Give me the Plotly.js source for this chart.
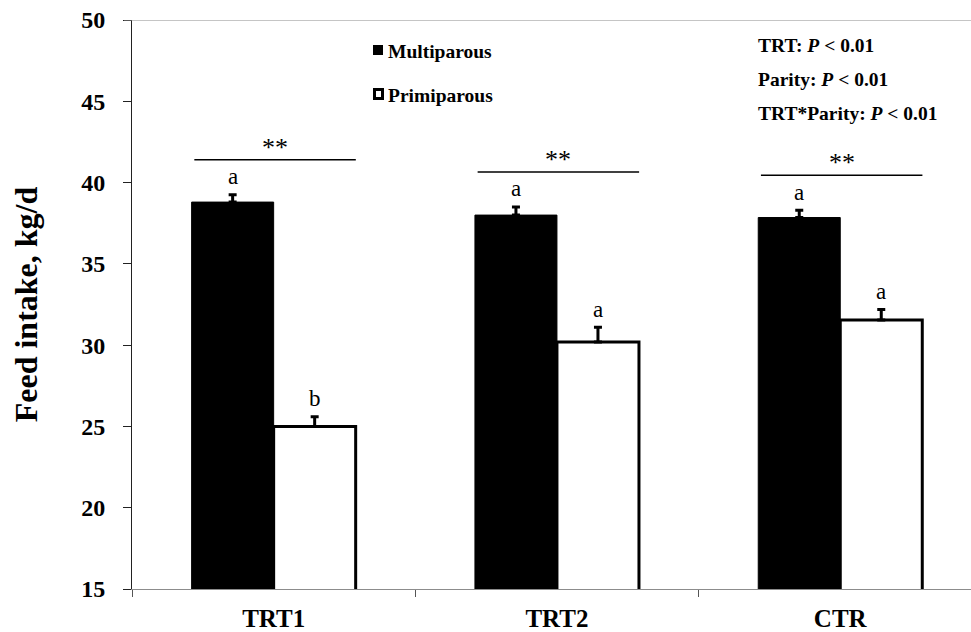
<!DOCTYPE html>
<html>
<head>
<meta charset="utf-8">
<script src="https://cdn.plot.ly/plotly-3.0.1.min.js"></script>
<style>
  html, body { margin: 0; padding: 0; background: #ffffff; }
  #chart { width: 971px; height: 632px; }
</style>
</head>
<body>
<div id="chart"></div>
<script>
// Feed intake by treatment and parity (mean + SE)
const groups = ['TRT1', 'TRT2', 'CTR'];
const multiparous = [38.8, 38.0, 37.85];
const multiparousSE = [0.45, 0.5, 0.45];
const primiparous = [25.0, 30.2, 31.55];
const primiparousSE = [0.6, 0.9, 0.65];
const multiLetters = ['a', 'a', 'a'];
const primiLetters = ['b', 'a', 'a'];
const parityMarks = ['**', '**', '**'];
const statLines = [
  'TRT: <i>P</i> &lt; 0.01',
  'Parity: <i>P</i> &lt; 0.01',
  'TRT*Parity: <i>P</i> &lt; 0.01'
];
const seriesNames = ['Multiparous', 'Primiparous'];

// page geometry
const W = 971, H = 632;
const M = { l: 132, r: 0, t: 20, b: 43 };
const px = x => (x - M.l) / (W - M.l - M.r);
const py = y => 1 - (y - M.t) / (H - M.t - M.b);

const SERIF = 'Liberation Serif, serif';
const BARGAP = 0.421;
const half = (1 - BARGAP) / 4;   // centre offset of each bar in a group

const traces = [
  {
    type: 'bar', name: seriesNames[0], x: groups, y: multiparous,
    marker: { color: '#000000', line: { color: '#000000', width: 1 } },
    error_y: { type: 'data', symmetric: false, array: multiparousSE,
               arrayminus: multiparousSE.map(() => 0),
               color: '#000000', thickness: 3, width: 4 },
    showlegend: false, hoverinfo: 'skip'
  },
  {
    type: 'bar', name: seriesNames[1], x: groups, y: primiparous,
    marker: { color: '#ffffff', line: { color: '#000000', width: 3 } },
    error_y: { type: 'data', symmetric: false, array: primiparousSE,
               arrayminus: primiparousSE.map(() => 0),
               color: '#000000', thickness: 3, width: 4 },
    showlegend: false, hoverinfo: 'skip'
  }
];

const annotations = [];
const shapes = [];

groups.forEach((g, i) => {
  const mTop = multiparous[i] + multiparousSE[i];
  const pTop = primiparous[i] + primiparousSE[i];
  annotations.push({
    x: i - half, y: mTop, xref: 'x', yref: 'y', text: multiLetters[i],
    showarrow: false, yanchor: 'middle', yshift: 18,
    font: { family: SERIF, size: 23, color: '#000000' }
  });
  annotations.push({
    x: i + half, y: pTop, xref: 'x', yref: 'y', text: primiLetters[i],
    showarrow: false, yanchor: 'middle', yshift: 18,
    font: { family: SERIF, size: 23, color: '#000000' }
  });
  // parity comparison bracket
  const lineY = Math.max(mTop, pTop) + 2.15;
  shapes.push({
    type: 'line', xref: 'x', yref: 'y', x0: i - 0.28, x1: i + 0.29,
    y0: lineY, y1: lineY, line: { color: '#000000', width: 1.5 }
  });
  annotations.push({
    x: i + 0.005, y: lineY, xref: 'x', yref: 'y', text: parityMarks[i],
    showarrow: false, yanchor: 'bottom', yshift: -4,
    font: { family: SERIF, size: 26, color: '#000000' }
  });
});

// top border at 50
shapes.push({
  type: 'line', xref: 'paper', yref: 'y', x0: px(124), x1: 1, y0: 50, y1: 50,
  line: { color: '#8c8c8c', width: 1 }
});

// legend keys
shapes.push({
  type: 'rect', xref: 'paper', yref: 'paper',
  x0: px(373), x1: px(383), y0: py(55), y1: py(45),
  fillcolor: '#000000', line: { width: 0 }
});
shapes.push({
  type: 'rect', xref: 'paper', yref: 'paper',
  x0: px(374.5), x1: px(382.5), y0: py(98.5), y1: py(89.5),
  fillcolor: '#ffffff', line: { color: '#000000', width: 3 }
});
annotations.push({
  xref: 'paper', yref: 'paper', x: px(386), y: py(51), xanchor: 'left', yanchor: 'middle',
  text: '<b>' + seriesNames[0] + '</b>', showarrow: false,
  font: { family: SERIF, size: 19.5, color: '#000000' }
});
annotations.push({
  xref: 'paper', yref: 'paper', x: px(386), y: py(95), xanchor: 'left', yanchor: 'middle',
  text: '<b>' + seriesNames[1] + '</b>', showarrow: false,
  font: { family: SERIF, size: 19.5, color: '#000000' }
});

// model effects
statLines.forEach((s, k) => {
  annotations.push({
    xref: 'paper', yref: 'paper', x: px(756), y: py(45 + 34.2 * k),
    xanchor: 'left', yanchor: 'middle', text: '<b>' + s + '</b>', showarrow: false,
    font: { family: SERIF, size: 19.5, color: '#000000' }
  });
});

const layout = {
  width: W, height: H,
  margin: M,
  paper_bgcolor: '#ffffff', plot_bgcolor: '#ffffff',
  barmode: 'group', bargap: BARGAP, bargroupgap: 0,
  font: { family: SERIF, color: '#000000' },
  xaxis: {
    type: 'category', range: [-0.5, 2.4615], autorange: false,
    showgrid: false, zeroline: false,
    showline: true, linecolor: '#8c8c8c', linewidth: 1,
    ticks: 'outside', tickson: 'boundaries', ticklen: 7, tickcolor: '#555555', tickwidth: 1,
    ticklabelstandoff: 7,
    tickfont: { family: SERIF, size: 25, weight: 'bold', color: '#000000' },
    fixedrange: true
  },
  yaxis: {
    range: [15, 50], autorange: false, dtick: 5, tick0: 15,
    showgrid: false, zeroline: false,
    showline: true, linecolor: '#222222', linewidth: 1,
    ticks: 'outside', ticklen: 8, tickcolor: '#222222', tickwidth: 1,
    ticklabelstandoff: 13,
    tickfont: { family: SERIF, size: 24, weight: 'bold', color: '#000000' },
    title: { text: 'Feed intake, kg/d', standoff: 34,
             font: { family: SERIF, size: 32, weight: 'bold', color: '#000000' } },
    automargin: false,
    fixedrange: true
  },
  annotations: annotations,
  shapes: shapes
};

Plotly.newPlot('chart', traces, layout, { displayModeBar: false, staticPlot: true });
</script>
</body>
</html>
